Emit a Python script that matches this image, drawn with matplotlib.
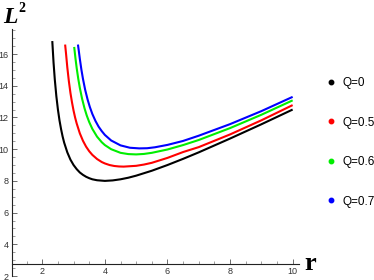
import matplotlib
matplotlib.use("Agg")
import matplotlib.pyplot as plt
from matplotlib.lines import Line2D
from matplotlib.ticker import MultipleLocator

# Data
r_q0 = [2.32, 2.36, 2.4, 2.45, 2.5, 2.55, 2.6, 2.65, 2.7, 2.8, 2.9, 3.0, 3.1, 3.2, 3.3, 3.4, 3.5, 3.6,
        3.75, 4.0, 4.25, 4.5, 4.75, 5.0, 5.5, 6.0, 6.5, 7.0, 8.0, 9.0, 10.0]
L2_q0 = [16.82, 15.47, 14.4, 13.34, 12.5, 11.82, 11.27, 10.8, 10.41, 9.8, 9.34, 9.0, 8.74, 8.53, 8.38,
         8.26, 8.17, 8.1, 8.04, 8.0, 8.03, 8.1, 8.2, 8.33, 8.64, 9.0, 9.39, 9.8, 10.67, 11.57, 12.5]

r_q05 = [2.73, 2.76, 2.8, 2.85, 2.9, 2.95, 3.0, 3.05, 3.1, 3.2, 3.3, 3.4, 3.5, 3.6, 3.75, 3.9, 4.0,
         4.15, 4.3, 4.45, 4.6, 5.0, 5.25, 5.5, 6.0, 6.5, 7.0, 8.0, 9.0, 10.0]
L2_q05 = [16.6, 16.01, 15.16, 14.28, 13.55, 12.95, 12.43, 11.99, 11.62, 11.0, 10.53, 10.16, 9.87, 9.64,
          9.38, 9.19, 9.10, 9.0, 8.94, 8.91, 8.90, 8.95, 9.03, 9.14, 9.45, 9.82, 10.13, 10.93, 11.82, 12.78]

r_q06 = [3.02, 3.06, 3.1, 3.15, 3.2, 3.27, 3.35, 3.42, 3.5, 3.6, 3.75, 3.9, 4.0, 4.2, 4.5, 4.75, 5.0,
         5.25, 5.5, 6.0, 6.5, 7.0, 8.0, 9.0, 10.0]
L2_q06 = [16.45, 15.74, 15.11, 14.44, 13.87, 13.2, 12.58, 12.13, 11.71, 11.28, 10.79, 10.44, 10.26, 10.0,
          9.77, 9.69, 9.67, 9.70, 9.77, 9.98, 10.26, 10.58, 11.33, 12.17, 13.08]

r_q07 = [3.14, 3.17, 3.2, 3.25, 3.3, 3.37, 3.45, 3.52, 3.6, 3.7, 3.8, 3.9, 4.0, 4.2, 4.5, 4.8, 5.1,
         5.35, 5.6, 6.0, 6.5, 7.0, 8.0, 9.0, 10.0]
L2_q07 = [16.6, 16.16, 15.70, 15.02, 14.44, 13.75, 13.12, 12.66, 12.22, 11.78, 11.42, 11.14, 10.90, 10.55,
          10.24, 10.09, 10.05, 10.06, 10.12, 10.27, 10.52, 10.85, 11.58, 12.40, 13.30]

labels = ["Q=0", "Q=0.5", "Q=0.6", "Q=0.7"]
colors = ["#000000", "#ff0000", "#00ee00", "#0000ff"]
x_ticks = [2, 4, 6, 8, 10]
y_ticks = [2, 4, 6, 8, 10, 12, 14, 16]

W, H = 374, 280
fig = plt.figure(figsize=(W / 100, H / 100), dpi=100)
ax = fig.add_axes([11.6 / W, 4 / H, 287.3 / W, 247.3 / H])

series = [(r_q0, L2_q0), (r_q05, L2_q05), (r_q06, L2_q06), (r_q07, L2_q07)]
for (rr, ll), c in zip(series, colors):
    ax.plot(rr, ll, color=c, lw=1.5, solid_capstyle="butt", solid_joinstyle="round")

ax.set_xlim(1.02, 10.2)
ax.set_ylim(2, 17.6)

ax.spines["top"].set_visible(False)
ax.spines["right"].set_visible(False)
ax.spines["bottom"].set_position(("data", 2.75))
for s in ("left", "bottom"):
    ax.spines[s].set_linewidth(0.8)
    ax.spines[s].set_color("#222222")

ax.set_xticks(x_ticks)
ax.set_yticks(y_ticks)
ax.xaxis.set_minor_locator(MultipleLocator(0.5))
ax.yaxis.set_minor_locator(MultipleLocator(0.5))
tick_font = ["Liberation Sans Narrow", "Liberation Sans", "DejaVu Sans"]
ax.tick_params(which="major", direction="in", length=3.3, width=0.6, color="#555555",
               labelsize=6.5, labelcolor="#333333", pad=2)
ax.tick_params(which="minor", direction="in", length=2.2, width=0.5, color="#777777")
for lab in ax.get_xticklabels() + ax.get_yticklabels():
    lab.set_family(tick_font)

# axis labels
fig.text(3 / W, 1 - 23 / H, "L", fontsize=17, fontweight="bold", fontstyle="italic",
         family=["Liberation Serif", "DejaVu Serif"], ha="left", va="baseline")
fig.text(18.5 / W, 1 - 12 / H, "2", fontsize=10, fontweight="bold",
         family=["Liberation Serif", "DejaVu Serif"], ha="left", va="baseline")
fig.text(304 / W, 1 - 270.5 / H, "r", fontsize=19, fontweight="bold",
         family=["Liberation Serif", "DejaVu Serif"], ha="left", va="baseline")

handles = [Line2D([], [], marker="o", ls="", color=c, markersize=3.2) for c in colors]
leg = fig.legend(handles, labels, loc="upper left", bbox_to_anchor=(326 / W, 1 - 77 / H),
                 frameon=False, borderpad=0, handlelength=0.8, handletextpad=0.6,
                 labelspacing=2.33, borderaxespad=0,
                 prop={"family": ["Liberation Sans Narrow", "Liberation Sans"], "size": 8.5})

fig.savefig("out.png", dpi=100)
